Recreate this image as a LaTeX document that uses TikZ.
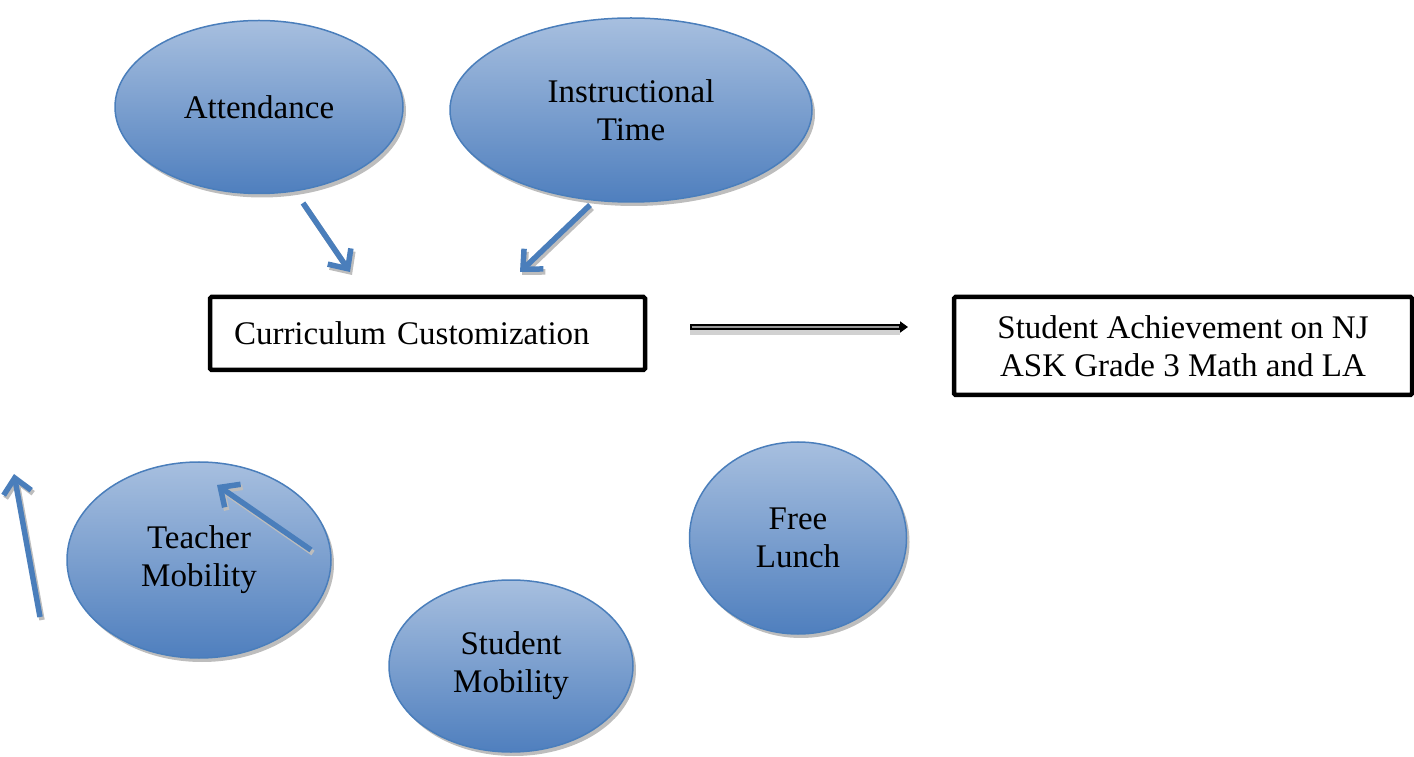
\documentclass[tikz,border=0pt]{standalone}
\usepackage{fontspec}
\setmainfont{Liberation Serif}
\usetikzlibrary{shapes.geometric,arrows.meta,shadows}
\definecolor{bluedark}{HTML}{4F7FBE}
\definecolor{bluelight}{HTML}{A7BFDF}
\definecolor{blueline}{HTML}{4A7EBB}
\definecolor{shadowgray}{HTML}{BDBDBD}
\tikzset{
  bubble/.style={ellipse, draw=blueline, line width=1.5pt, top color=bluelight, bottom color=bluedark,
    inner sep=0pt, align=center, font=\fontsize{33}{38}\selectfont,
    drop shadow={shadow xshift=3pt, shadow yshift=-4pt, fill=shadowgray, opacity=1}},
  framebox/.style={draw=black, line width=4.5pt, rounded corners=1.5pt, inner sep=0pt, font=\fontsize{33}{38}\selectfont},
  bluearrow/.style={draw=blueline, line width=5.5pt, -{Straight Barb[length=15pt,width=28pt,line width=5.5pt]}},
  shadowarrow/.style={draw=shadowgray, line width=5.5pt, -{Straight Barb[length=15pt,width=28pt,line width=5.5pt]}},
}
\begin{document}
\begin{tikzpicture}[x=1pt,y=1pt]
\useasboundingbox (0,0) rectangle (1414,756);
% ellipses
\node[bubble, minimum width=288pt, minimum height=173pt] (att) at (259,649) {Attendance};
\node[bubble, minimum width=362pt, minimum height=184pt] (inst) at (631,646) {Instructional\\Time};
\node[bubble, minimum width=264pt, minimum height=196pt] (teach) at (199,196) {Teacher\\Mobility};
\node[bubble, minimum width=244pt, minimum height=172pt] (stud) at (511,90) {Student\\Mobility};
\node[bubble, minimum width=217pt, minimum height=192pt] (lunch) at (798,218) {Free\\Lunch};
% boxes
\node[framebox, minimum width=435pt, minimum height=73pt, text width=387pt, align=left] (curr) at (427.5,422.5) {Curriculum Customization};
\node[framebox, minimum width=458pt, minimum height=98pt, align=center] (ach) at (1183,410) {Student Achievement on NJ\\ASK Grade 3 Math and LA};
% arrow coordinates
\coordinate (a1s) at (303,553); \coordinate (a1e) at (350,484);
\coordinate (a2s) at (590,551); \coordinate (a2e) at (520,484);
\coordinate (a3s) at (311,206); \coordinate (a3e) at (217,271);
\coordinate (a4s) at (40,139);  \coordinate (a4e) at (14,282);
\coordinate (a5s) at (690,429); \coordinate (a5e) at (908,429);
% shadows of arrows
\foreach \s/\e in {a1s/a1e,a2s/a2e,a3s/a3e,a4s/a4e}{
  \draw[shadowarrow, transform canvas={shift={(2pt,-3pt)}}] (\s) -- (\e);
}
\draw[bluearrow] (a1s) -- (a1e);
\draw[bluearrow] (a2s) -- (a2e);
\draw[bluearrow] (a3s) -- (a3e);
\draw[bluearrow] (a4s) -- (a4e);
% double arrow
\draw[draw=shadowgray!70, line width=6pt, transform canvas={shift={(0pt,-5pt)}}] (a5s) -- ([xshift=-8pt]a5e);
\draw[black, line width=6.5pt, -{Triangle[length=8pt,width=11pt]}] (a5s) -- (a5e);
\draw[gray!80, line width=2.5pt] ([xshift=1.5pt]a5s) -- ([xshift=-9pt]a5e);
\end{tikzpicture}
\end{document}
